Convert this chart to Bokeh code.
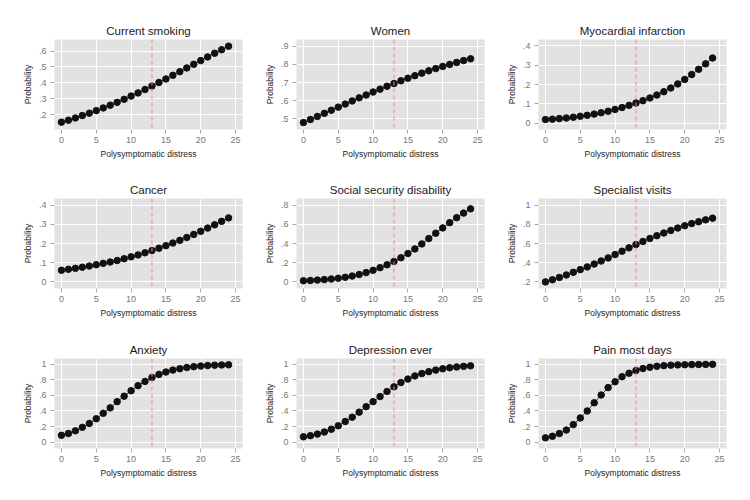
from bokeh.plotting import figure
from bokeh.layouts import gridplot
from bokeh.models import Span, FixedTicker, Range1d
from bokeh.embed import file_html
from bokeh.resources import INLINE

distress = list(range(25))

titles = ["Current smoking", "Women", "Myocardial infarction",
          "Cancer", "Social security disability", "Specialist visits",
          "Anxiety", "Depression ever", "Pain most days"]

current_smoking = [.155, .167, .181, .196, .211, .227, .244, .261, .279, .298, .318, .338, .359,
                   .381, .403, .425, .448, .471, .494, .517, .540, .563, .586, .608, .630]
women = [.480, .497, .514, .531, .548, .565, .582, .599, .616, .632, .648, .664, .680,
         .695, .710, .724, .738, .752, .765, .777, .789, .800, .811, .821, .831]
myocardial = [.020, .022, .025, .028, .032, .037, .042, .048, .055, .063, .072, .082, .093,
              .105, .117, .131, .146, .163, .182, .203, .226, .251, .278, .306, .336]
cancer = [.061, .066, .071, .077, .083, .090, .097, .104, .112, .121, .131, .141, .152,
          .164, .176, .189, .203, .217, .232, .248, .264, .281, .298, .316, .334]
disability = [.012, .015, .019, .024, .030, .038, .048, .061, .077, .097, .121, .148, .178,
              .213, .252, .296, .344, .396, .452, .508, .563, .618, .670, .718, .762]
specialist = [.200, .222, .246, .272, .300, .328, .356, .386, .418, .450, .485, .520, .555,
              .590, .622, .653, .682, .710, .737, .762, .786, .808, .828, .847, .865]
anxiety = [.087, .110, .145, .190, .240, .300, .370, .440, .520, .590, .660, .725, .780,
           .830, .870, .900, .925, .943, .958, .969, .977, .983, .988, .991, .993]
depression = [.068, .083, .103, .130, .165, .210, .265, .320, .385, .455, .520, .585, .650,
              .710, .765, .810, .850, .880, .905, .925, .942, .955, .965, .973, .980]
pain = [.055, .075, .110, .155, .225, .310, .400, .505, .605, .700, .775, .840, .885,
        .920, .945, .962, .974, .982, .988, .992, .994, .996, .997, .998, .999]

series = [current_smoking, women, myocardial, cancer, disability, specialist,
          anxiety, depression, pain]

x_ticks = [0, 5, 10, 15, 20, 25]
y_ticks = [[.2, .3, .4, .5, .6], [.5, .6, .7, .8, .9], [0, .1, .2, .3, .4],
           [0, .1, .2, .3, .4], [0, .2, .4, .6, .8], [.2, .4, .6, .8, 1],
           [0, .2, .4, .6, .8, 1], [0, .2, .4, .6, .8, 1], [0, .2, .4, .6, .8, 1]]
y_ranges = [(.109, .672), (.442, .937), (-.031, .431), (-.034, .435), (-.069, .87),
            (.131, 1.07), (-.082, 1.074), (-.082, 1.074), (-.082, 1.074)]
cutoff = 13


def fmt(v):
    if v == 0:
        return "0"
    if v == 1:
        return "1"
    s = ("%g" % v)
    return s[1:] if s.startswith("0") else s


FONT = "Liberation Sans"
col_left = [54, 40, 40]
col_right = [14, 14, 16]
row_top = [39, 30, 30]
row_bottom = [39, 40, 44]

figs = []
for i in range(9):
    r, c = divmod(i, 3)
    p = figure(frame_width=188, frame_height=90,
               min_border_left=col_left[c], min_border_right=col_right[c],
               min_border_top=row_top[r], min_border_bottom=row_bottom[r],
               x_range=Range1d(-1, 26), y_range=Range1d(*y_ranges[i]),
               output_backend="svg", toolbar_location=None, title=titles[i])
    p.background_fill_color = "#e2e2e2"
    p.border_fill_color = "white"
    p.outline_line_color = None
    p.title.align = "center"
    p.title.text_font = FONT
    p.title.text_font_size = "11.5px"
    p.title.text_font_style = "normal"
    p.title.text_color = "#1a1a1a"
    p.title.standoff = 5

    p.xaxis.ticker = FixedTicker(ticks=x_ticks)
    p.yaxis.ticker = FixedTicker(ticks=y_ticks[i])
    p.yaxis.major_label_overrides = {t: fmt(t) for t in y_ticks[i]}
    p.xaxis.axis_label = "Polysymptomatic distress"
    p.yaxis.axis_label = "Probability"
    for ax in (p.xaxis, p.yaxis):
        ax.axis_line_color = None
        ax.major_tick_in = 0
        ax.major_tick_out = 4
        ax.major_tick_line_color = "#aaaaaa"
        ax.minor_tick_line_color = None
        ax.major_label_text_font = FONT
        ax.major_label_text_font_size = "9px"
        ax.major_label_text_color = "#777777"
        ax.axis_label_text_font = FONT
        ax.axis_label_text_font_size = "8.5px"
        ax.axis_label_text_font_style = "normal"
        ax.axis_label_text_color = "#222222"
    p.xaxis.major_label_standoff = 3
    p.xaxis.axis_label_standoff = 3
    p.yaxis.major_label_standoff = 4
    p.yaxis.axis_label_standoff = 3

    p.grid.grid_line_color = "white"
    p.grid.grid_line_width = 1

    p.add_layout(Span(location=cutoff, dimension="height", line_color="#f08a8a",
                      line_dash="4 3", line_width=1))
    p.line(distress, series[i], line_color="#333333", line_width=1)
    p.scatter(distress, series[i], size=6.5, fill_color="#111111", line_color="#111111")
    figs.append(p)

grid = gridplot([figs[0:3], figs[3:6], figs[6:9]], toolbar_location=None)
open("out.html", "w").write(file_html(grid, INLINE))
